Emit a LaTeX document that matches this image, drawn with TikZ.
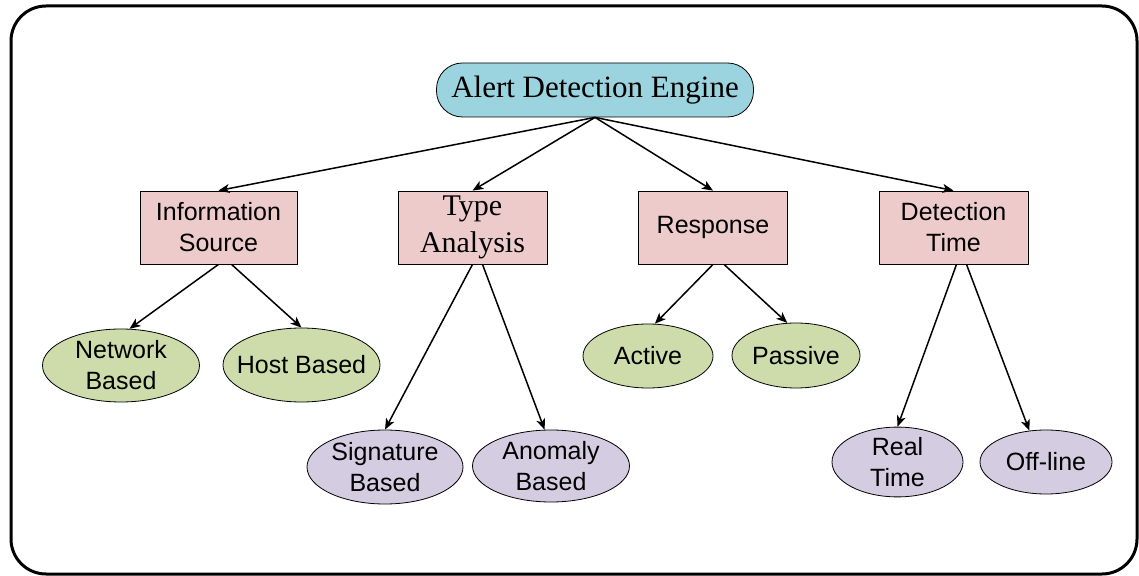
\documentclass[tikz,border=0pt]{standalone}
\usepackage{fontspec}
\setmainfont{Liberation Sans}
\newfontfamily\timesfont{Liberation Serif}
\usetikzlibrary{arrows.meta}
\definecolor{rootcol}{RGB}{155,211,223}
\definecolor{boxcol}{RGB}{238,203,203}
\definecolor{greencol}{RGB}{206,220,172}
\definecolor{purplecol}{RGB}{212,204,224}
\tikzset{
  rootnode/.style={draw,fill=rootcol,rounded corners=13pt,inner sep=0pt,
    minimum width=158.5pt,minimum height=27pt,
    font=\timesfont\fontsize{15.5pt}{18pt}\selectfont},
  catbox/.style={draw,fill=boxcol,inner sep=0pt,minimum width=74.5pt,
    minimum height=36.5pt,align=center,font=\fontsize{12.5pt}{15.5pt}\selectfont},
  leafgreen/.style={draw,ellipse,fill=greencol,inner sep=0pt,align=center,
    font=\fontsize{12.5pt}{15.5pt}\selectfont},
  leafpurple/.style={draw,ellipse,fill=purplecol,inner sep=0pt,align=center,
    font=\fontsize{12.5pt}{15.5pt}\selectfont},
  edge/.style={->,line width=0.75pt}
}
\usetikzlibrary{shapes.geometric}
\begin{document}
\begin{tikzpicture}[x=0.5pt,y=-0.5pt,>={Stealth[length=5.5pt,width=4.5pt,inset=1.5pt]},line join=bevel]
  \useasboundingbox (0,0) rectangle (1139,576);
  \draw[line width=1.5pt,rounded corners=17.5pt] (11,6) rectangle (1137,574);
%%
  % Node: root
  \node[rootnode] (root) at (595,90) {Alert Detection Engine};
  % Node: info
  \node[catbox,minimum width=78.5pt] (info) at (218.5,227.5) {Information\\Source};
  % Node: type
  \node[catbox,font=\timesfont\fontsize{15pt}{18.5pt}\selectfont] (type) at (472.5,227.5) {Type\\Analysis};
  % Node: resp
  \node[catbox] (resp) at (713,227.5) {Response};
  % Node: dtime
  \node[catbox] (dtime) at (953.5,227.5) {Detection\\Time};
  % Node: net
  \node[leafgreen,minimum width=78.5pt,minimum height=36.5pt] (net) at (121,365.5) {Network\\Based};
  % Node: host
  \node[leafgreen,inner xsep=-5pt,minimum width=78.5pt,minimum height=37pt] (host) at (301.5,365) {Host Based};
  % Node: active
  \node[leafgreen,minimum width=65pt,minimum height=32pt] (active) at (648,356) {Active};
  % Node: passive
  \node[leafgreen,minimum width=64pt,minimum height=32.5pt] (passive) at (796,355.5) {Passive};
  % Node: sig
  \node[leafpurple,minimum width=78pt,minimum height=37pt] (sig) at (385,467) {Signature\\Based};
  % Node: anom
  \node[leafpurple,minimum width=78.5pt,minimum height=36pt] (anom) at (551,466) {Anomaly\\Based};
  % Node: real
  \node[leafpurple,minimum width=65.5pt,minimum height=32pt] (real) at (897.5,462) {Real\\Time};
  % Node: offl
  \node[leafpurple,minimum width=66pt,minimum height=32pt] (offl) at (1046,462) {Off-line};
%%
  % Edge: root -> info, type, resp, dtime
  \draw[edge] (root.south) -- (info.north);
  \draw[edge] (root.south) -- (type.north);
  \draw[edge] (root.south) -- (resp.north);
  \draw[edge] (root.south) -- (dtime.north);
  % Edge: info -> net, host
  \draw[edge] (info.south) -- (net.77);
  \draw[edge] ([xshift=6.5pt]info.south) -- (host.north);
  % Edge: type -> sig, anom
  \draw[edge] (type.south) -- (sig.north);
  \draw[edge] ([xshift=5pt]type.south) -- (anom.100);
  % Edge: resp -> active, passive
  \draw[edge] (resp.south) -- (active.78);
  \draw[edge] ([xshift=5.5pt]resp.south) -- (passive.105);
  % Edge: dtime -> real, offl
  \draw[edge] ([xshift=1.5pt]dtime.south) -- (real.north);
  \draw[edge] ([xshift=6.5pt]dtime.south) -- (offl.118);
%
\end{tikzpicture}
\end{document}
